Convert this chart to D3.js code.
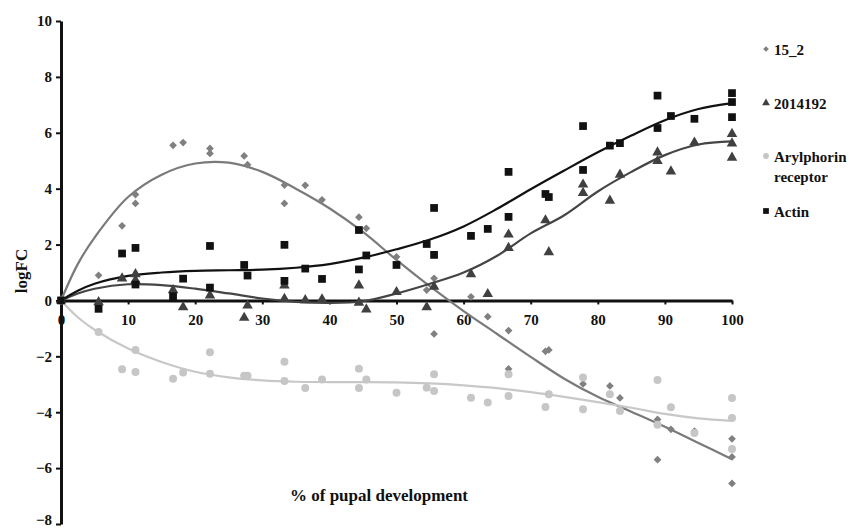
<!DOCTYPE html>
<html lang="en">
<head>
<meta charset="UTF-8">
<title>logFC vs pupal development</title>
<script src="https://d3js.org/d3.v7.min.js"></script>
<style>
body { margin: 0; background: #fff; }
text { font-family: "Liberation Serif", "Times New Roman", serif; font-weight: bold; fill: #111; }
.axis path, .axis line { stroke: #111; }
</style>
</head>
<body>
<svg width="862" height="529"></svg>
<script>
// series names + styles order as in legend
const seriesNames = ["15_2", "2014192", "Arylphorin receptor", "Actin"];

// measured points [x %, logFC]
const pts15_2 = [[0,0],[5.6,0.9],[9.1,2.67],[11.1,3.79],[11.1,3.47],[16.7,5.55],[18.2,5.65],[22.2,5.44],[22.2,5.26],
  [27.3,5.17],[27.8,4.86],[33.3,4.13],[33.3,3.47],[36.4,4.12],[38.9,3.6],[44.4,2.98],[45.5,2.58],[50,1.56],
  [54.5,0.37],[55.6,0.79],[55.6,-1.2],[61.1,0.13],[63.6,-0.58],[66.7,-1.08],[66.7,-2.45],[72.2,-1.82],[72.7,-1.77],
  [77.8,-2.99],[81.8,-3.06],[83.3,-3.49],[88.9,-4.26],[88.9,-5.7],[90.9,-4.61],[94.4,-4.68],[100,-4.95],[100,-5.6],[100,-6.55]];

const pts2014192 = [[0,0],[5.6,-0.06],[9.1,0.79],[11.1,0.94],[11.1,0.72],[16.7,0.37],[18.2,-0.24],[22.2,0.18],[27.3,-0.62],
  [27.8,-0.18],[33.3,0.54],[33.3,0.06],[36.4,0.01],[38.9,0.04],[44.4,0.54],[44.4,-0.08],[45.5,-0.32],[50,0.3],
  [54.5,-0.24],[55.6,0.49],[61.1,0.94],[63.6,0.23],[66.7,2.36],[66.7,1.88],[72.2,2.87],[72.7,1.73],[77.8,4.15],
  [77.8,3.85],[81.8,3.57],[83.3,4.5],[88.9,5.3],[88.9,4.99],[90.9,4.62],[94.4,5.65],[100,5.96],[100,5.62],[100,5.11]];

const ptsAryl = [[0,0],[5.6,-1.13],[9.1,-2.46],[11.1,-1.77],[11.1,-2.56],[16.7,-2.8],[18.2,-2.58],[22.2,-1.85],[22.2,-2.62],
  [27.3,-2.69],[27.8,-2.69],[33.3,-2.19],[33.3,-2.88],[36.4,-3.13],[38.9,-2.83],[44.4,-2.44],[44.4,-3.13],[45.5,-2.83],
  [50,-3.3],[54.5,-3.12],[55.6,-2.64],[55.6,-3.24],[61.1,-3.48],[63.6,-3.65],[66.7,-2.64],[66.7,-3.42],[72.2,-3.81],
  [72.7,-3.36],[77.8,-2.76],[77.8,-3.89],[81.8,-3.36],[83.3,-3.96],[88.9,-2.85],[88.9,-4.45],[90.9,-3.82],[94.4,-4.74],
  [100,-3.49],[100,-4.21],[100,-5.32]];

const ptsActin = [[0,0],[5.6,-0.3],[9.1,1.68],[11.1,1.88],[11.1,0.57],[16.7,0.15],[18.2,0.78],[22.2,1.95],[22.2,0.46],
  [27.3,1.27],[27.8,0.89],[33.3,1.99],[33.3,0.7],[36.4,1.14],[38.9,0.77],[44.4,2.52],[44.4,1.11],[45.5,1.61],[50,1.27],
  [54.5,2.02],[55.6,3.31],[55.6,1.63],[61.1,2.31],[63.6,2.56],[66.7,4.6],[66.7,2.99],[72.2,3.81],[72.7,3.7],
  [77.8,6.24],[77.8,4.67],[81.8,5.54],[83.3,5.63],[88.9,7.33],[88.9,6.17],[90.9,6.6],[94.4,6.5],[100,7.42],[100,7.1],[100,6.56]];

// trend lines
const trendX = [0,2.5,5,10,15,20,25,30,35,40,45,50,55,60,65,70,75,80,85,90,95,100];
const trend15_2 = [0,1.3,2.25,3.7,4.5,4.9,4.93,4.6,4.0,3.3,2.45,1.45,0.5,-0.38,-1.2,-2.02,-2.8,-3.45,-3.98,-4.52,-5.1,-5.68];
const trend2014192 = [0,0.25,0.42,0.58,0.55,0.42,0.25,0.07,-0.05,-0.09,-0.03,0.25,0.6,1.0,1.6,2.4,3.05,3.9,4.6,5.2,5.58,5.69];
const trendAryl = [0,-0.6,-1.05,-1.72,-2.2,-2.55,-2.75,-2.86,-2.91,-2.92,-2.92,-2.93,-2.97,-3.04,-3.14,-3.28,-3.45,-3.64,-3.84,-4.06,-4.22,-4.31];
const trendActin = [0,0.35,0.6,0.88,1.0,1.06,1.08,1.1,1.17,1.3,1.53,1.83,2.18,2.65,3.28,3.98,4.65,5.3,5.9,6.45,6.85,7.06];

const xTicks = [0,10,20,30,40,50,60,70,80,90,100];
const yTicks = [-8,-6,-4,-2,0,2,4,6,8,10];

const svg = d3.select("svg");
const x = d3.scaleLinear().domain([0,100]).range([61,732]);
const y = d3.scaleLinear().domain([-8,10]).range([524,21]);

// axes
const yAxis = svg.append("g").attr("class","axis")
  .attr("transform","translate(61,0)")
  .call(d3.axisLeft(y).tickValues(yTicks).tickSize(5).tickSizeOuter(0).tickPadding(4));
yAxis.select(".domain").attr("stroke-width",3);
yAxis.selectAll(".tick line").attr("stroke-width",2);
yAxis.selectAll(".tick text").attr("font-size",15)
  .attr("dy", d => d === -8 ? "0.05em" : "0.32em");

const xAxis = svg.append("g").attr("class","axis")
  .attr("transform",`translate(0,${y(0)})`)
  .call(d3.axisBottom(x).tickValues(xTicks).tickSize(4).tickSizeOuter(0).tickPadding(10));
xAxis.select(".domain").attr("stroke-width",3);
xAxis.selectAll(".tick line").attr("stroke-width",2);
xAxis.selectAll(".tick text").attr("font-size",15);

svg.append("text").attr("font-size",17)
  .attr("transform","translate(27,271) rotate(-90)")
  .attr("text-anchor","middle").text("logFC");
svg.append("text").attr("font-size",17)
  .attr("x",379).attr("y",501).attr("text-anchor","middle")
  .text("% of pupal development");

const series = [
  {pts: pts15_2, trend: trend15_2, color: "#808080", line: "#7a7a7a", sym: d3.symbolSquare, rot: 45, size: 30},
  {pts: pts2014192, trend: trend2014192, color: "#404040", line: "#454545", sym: d3.symbolTriangle, rot: 0, size: 48},
  {pts: ptsAryl, trend: trendAryl, color: "#c6c6c6", line: "#c8c8c8", sym: d3.symbolCircle, rot: 0, size: 50},
  {pts: ptsActin, trend: trendActin, color: "#111111", line: "#111111", sym: d3.symbolSquare, rot: 0, size: 60}
];

const line = d3.line().x((d,i) => x(trendX[i])).y(d => y(d)).curve(d3.curveCatmullRom);

series.forEach(s => {
  svg.append("path").datum(s.trend)
    .attr("d", line).attr("fill","none")
    .attr("stroke", s.line).attr("stroke-width", 2.2);
});

series.forEach(s => {
  svg.append("g").selectAll("path").data(s.pts).join("path")
    .attr("transform", d => `translate(${x(d[0])},${y(d[1])}) rotate(${s.rot})`)
    .attr("d", d3.symbol().type(s.sym).size(s.size))
    .attr("fill", s.color);
});

// legend
const legendY = [50, 104, 157, 212];
series.forEach((s,i) => {
  svg.append("path")
    .attr("transform", `translate(766,${legendY[i]-1}) rotate(${s.rot})`)
    .attr("d", d3.symbol().type(s.sym).size(s.size*0.55))
    .attr("fill", s.color);
  const t = svg.append("text").attr("font-size",15).attr("x",774).attr("y",legendY[i]+5);
  if (seriesNames[i] === "Arylphorin receptor") {
    t.append("tspan").attr("x",774).text("Arylphorin");
    t.append("tspan").attr("x",774).attr("dy",20).text("receptor");
  } else {
    t.text(seriesNames[i]);
  }
});
</script>
</body>
</html>
